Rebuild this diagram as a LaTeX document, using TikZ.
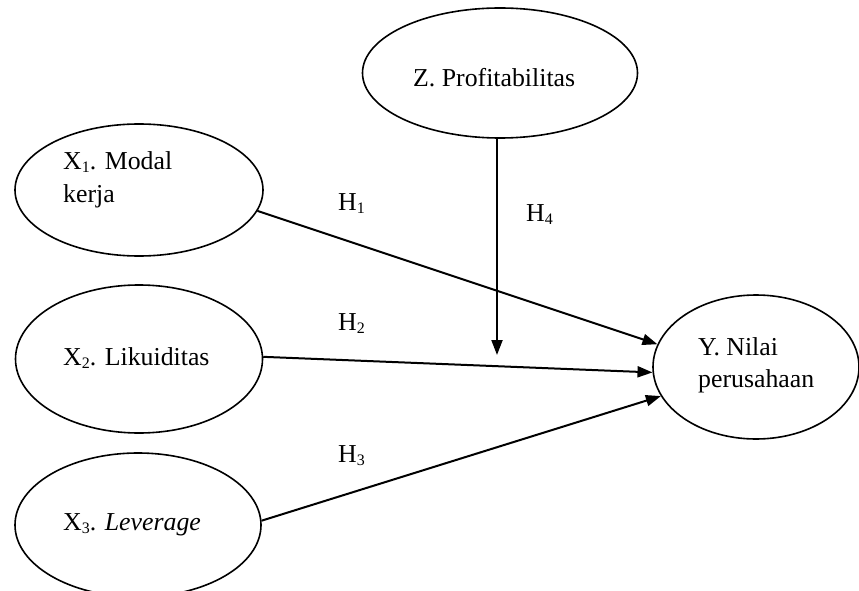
\documentclass[tikz,border=0pt]{standalone}
\usepackage{fontspec}
\setmainfont{Liberation Serif}
\usetikzlibrary{shapes.geometric,arrows.meta}
\newcommand\mysbs[1]{\raisebox{-3pt}{\fontsize{16}{16}\selectfont #1}}
\begin{document}
\begin{tikzpicture}[x=1pt,y=-1pt,
  ell/.style={draw=black,line width=1.6pt,ellipse,inner sep=0pt},
  lbl/.style={anchor=base west,inner sep=0pt,font=\fontsize{25.8}{30}\selectfont},
  conn/.style={line width=2pt,-{Triangle[length=15pt,width=11pt]}}]
\useasboundingbox (0,0) rectangle (859,591);
\clip (0,0) rectangle (859,591);
% ellipses
\node[ell,minimum width=275pt,minimum height=130pt] (z) at (500,73) {};
\node[ell,minimum width=248pt,minimum height=132pt] (x1) at (139,190) {};
\node[ell,minimum width=247pt,minimum height=148pt] (x2) at (139,359) {};
\node[ell,minimum width=246pt,minimum height=144pt] (x3) at (138,525) {};
\node[ell,minimum width=206pt,minimum height=144pt] (y) at (756,367) {};
% texts
\node[lbl] (tz) at (413,87) {Z. Profitabilitas};
\node[lbl] (tx1a) at (63,169) {X\mysbs{1}. Modal};
\node[lbl] (tx1b) at (63,202) {kerja};
\node[lbl] (tx2) at (63,365) {X\mysbs{2}. Likuiditas};
\node[lbl] (tx3) at (63,530) {X\mysbs{3}. \textit{Leverage}};
\node[lbl] (tya) at (698,355) {Y. Nilai};
\node[lbl] (tyb) at (698,387) {perusahaan};
% hypothesis labels
\node[lbl] (h1) at (338,210) {H\mysbs{1}};
\node[lbl] (h2) at (338,330) {H\mysbs{2}};
\node[lbl] (h3) at (338,462) {H\mysbs{3}};
\node[lbl] (h4) at (526,221) {H\mysbs{4}};
% connectors
\coordinate (zt) at (497,355);
\draw[conn] (x1.-10.6) -- (y.167.3);
\draw[conn] (x2.1) -- (y.183.3);
\draw[conn] (x3.2.3) -- (y.197.9);
\draw[conn] (z.south -| zt) -- (zt);
\end{tikzpicture}
\end{document}
